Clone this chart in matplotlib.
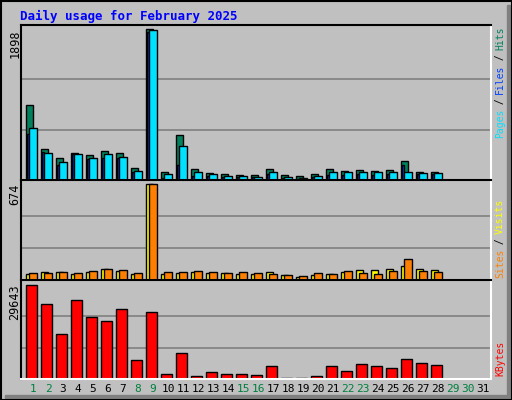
import matplotlib.pyplot as plt
from matplotlib.patches import Rectangle

days = list(range(1, 32))
hits = [942, 387, 271, 335, 310, 361, 335, 155, 1898, 103, 568, 142, 90, 77, 65, 65, 142, 65, 52, 77, 142, 116, 129, 116, 129, 245, 103, 103]
files = [581, 348, 194, 322, 258, 271, 271, 103, 1859, 26, 194, 52, 52, 39, 39, 39, 77, 26, 13, 39, 65, 65, 77, 65, 77, 194, 77, 77]
pages = [658, 335, 232, 322, 271, 322, 284, 116, 1885, 77, 426, 103, 77, 52, 52, 39, 103, 39, 26, 52, 103, 103, 103, 103, 103, 103, 90, 90]
visits = [41, 56, 56, 44, 56, 75, 63, 41, 674, 41, 49, 56, 51, 46, 44, 44, 56, 34, 19, 36, 44, 56, 70, 70, 78, 100, 78, 70]
sites = [49, 49, 53, 49, 61, 75, 70, 49, 674, 56, 53, 61, 56, 46, 56, 49, 41, 34, 27, 49, 41, 61, 49, 41, 63, 151, 63, 56]
kbytes = [29643, 23480, 14066, 24886, 19368, 18286, 21965, 5951, 20991, 1731, 8223, 1082, 2056, 1731, 1731, 1407,
          4112, 300, 300, 1082, 4112, 2380, 4653, 4112, 3354, 6384, 4977, 4328]
weekend = [1, 2, 8, 9, 15, 16, 22, 23, 29, 30]

W, H = 512, 400
BG = '#C0C0C0'
MONO = 'DejaVu Sans Mono'
fig = plt.figure(figsize=(W / 100, H / 100), dpi=100, facecolor=BG)

# outer frame with shadow on right and bottom
fig.patches.append(Rectangle((0, 0), 5 / W, 1, transform=fig.transFigure, color='black'))
fig.patches.append(Rectangle((5 / W, 0), 1 - 5 / W, 5 / H, transform=fig.transFigure, color='#808080'))
fig.patches.append(Rectangle((1 - 5 / W, 0), 5 / W, 1 - 5 / H, transform=fig.transFigure, color='#808080'))
fig.patches[0].set_visible(False)
fig.patches.append(Rectangle((0.5 / W, 0.5 / H), 1 - 1 / W, 1 - 1 / H, transform=fig.transFigure,
                             fill=False, ec='black', lw=1.5))


def pax(top, bottom):
    ax = fig.add_axes([21 / W, 1 - bottom / H, 470 / W, (bottom - top) / H])
    ax.set_facecolor(BG)
    ax.set_xlim(0.2, 31.53)
    ax.set_xticks([])
    ax.set_yticks([])
    for s in ['left', 'top']:
        ax.spines[s].set_color('black')
    for s in ['right', 'bottom']:
        ax.spines[s].set_color('white')
    for s in ax.spines.values():
        s.set_linewidth(1.5)
    return ax


px = 1 / 15.0
d = days[:28]

# top panel: hits / files / pages
ax1 = pax(25, 180)
ax1.set_ylim(0, 1898 * 151 / 147)
for v in [1898 / 3, 2 * 1898 / 3]:
    ax1.axhline(v, color='#808080', lw=1.2, zorder=0)
ax1.bar([x - 3.8 * px for x in d], hits, 7 * px, color='#00805C', ec='black', lw=1)
ax1.bar([x - 5 * px for x in d], files, 2.5 * px, color='#0040FF', ec='black', lw=1)
ax1.bar(d, pages, 7.3 * px, color='#00E0FF', ec='black', lw=1)

# middle panel: visits / sites
ax2 = pax(180, 280)
ax2.set_ylim(0, 674 * 96.7 / 92.4)
for v in [674 / 3, 2 * 674 / 3]:
    ax2.axhline(v, color='#808080', lw=1.2, zorder=0)
ax2.bar([x - 3.7 * px for x in d], visits, 7 * px, color='#FFFF00', ec='black', lw=1)
ax2.bar(d, sites, 7.3 * px, color='#FF8000', ec='black', lw=1)

# bottom panel: kbytes
ax3 = pax(280, 379)
ax3.set_ylim(0, 29643 * 96 / 91.3)
for v in [29643 / 3, 2 * 29643 / 3]:
    ax3.axhline(v, color='#808080', lw=1.2, zorder=0)
ax3.bar([x - 1.5 * px for x in d], kbytes, 10.3 * px, color='#FF0000', ec='black', lw=1)


def ftext(x, y, s, **kw):
    fig.text(x / W, 1 - y / H, s, family=MONO, **kw)


ftext(20, 16, 'Daily usage for February 2025', color='#0000FF', fontsize=9, weight='bold', va='center')
ftext(15, 29, '1898', rotation=90, fontsize=8.5, va='top', ha='center')
ftext(15, 184, '674', rotation=90, fontsize=8.5, va='top', ha='center')
ftext(15, 284, '29643', rotation=90, fontsize=8.5, va='top', ha='center')

for day in days:
    x = 33 + (day - 1) * 15
    col = '#008040' if day in weekend else 'black'
    ftext(x, 389, str(day), color=col, fontsize=8, ha='center', va='center')


def side(pieces, y0, step=5.5):
    y = y0
    for s, c in pieces:
        ftext(500, y, s, color=c, rotation=90, fontsize=7, ha='center', va='bottom')
        y -= len(s) * step


side([('Pages', '#00E0FF'), (' / ', 'black'), ('Files', '#0040FF'), (' / ', 'black'), ('Hits', '#00805C')], 138)
side([('Sites', '#FF8000'), (' / ', 'black'), ('Visits', '#FFFF00')], 278)
side([('KBytes', '#FF0000')], 376)

fig.savefig('out.png', dpi=100, facecolor=BG)
